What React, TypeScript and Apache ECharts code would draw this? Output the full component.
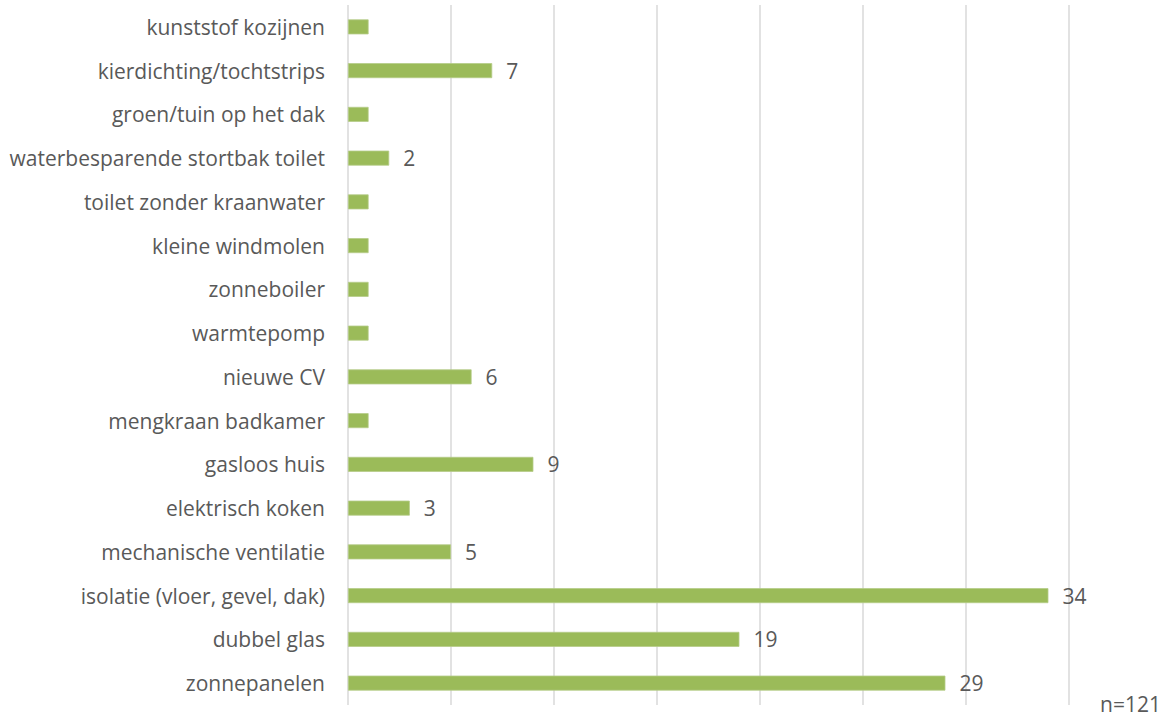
import React, { useEffect, useRef } from "react";
import * as echarts from "echarts";

const categories = [
  "zonnepanelen",
  "dubbel glas",
  "isolatie (vloer, gevel, dak)",
  "mechanische ventilatie",
  "elektrisch koken",
  "gasloos huis",
  "mengkraan badkamer",
  "nieuwe CV",
  "warmtepomp",
  "zonneboiler",
  "kleine windmolen",
  "toilet zonder kraanwater",
  "waterbesparende stortbak toilet",
  "groen/tuin op het dak",
  "kierdichting/tochtstrips",
  "kunststof kozijnen",
];
const values = [29, 19, 34, 5, 3, 9, 1, 6, 1, 1, 1, 1, 2, 1, 7, 1];
const note = "n=121";

const FONT = "'Open Sans', sans-serif";
const FS = 21;
const TXT = "#595959";

export default function App() {
  const ref = useRef<HTMLDivElement>(null);
  useEffect(() => {
    if (!ref.current) return;
    const chart = echarts.init(ref.current, undefined, { renderer: "svg" });
    chart.setOption({
      animation: false,
      grid: { left: 348, right: 101, top: 5, bottom: 14, containLabel: false },
      xAxis: {
        type: "value",
        min: 0,
        max: 35,
        interval: 5,
        axisLabel: { show: false },
        axisLine: { show: false },
        axisTick: { show: false },
        splitLine: { show: true, lineStyle: { color: "#d9d9d9", width: 1.5 } },
      },
      yAxis: {
        type: "category",
        data: categories,
        axisLine: { show: false },
        axisTick: { show: false },
        axisLabel: { color: TXT, fontSize: FS, fontFamily: FONT, margin: 23 },
      },
      series: [
        {
          type: "bar",
          data: values.map((v) => ({
            value: v,
            label: { show: v > 1 },
          })),
          barWidth: 15,
          itemStyle: { color: "#9bbb59", borderColor: "#b5cc88", borderWidth: 0.8 },
          label: {
            position: "right",
            distance: 14,
            color: TXT,
            fontSize: FS,
            fontFamily: FONT,
          },
        },
      ],
      graphic: [
        {
          type: "text",
          right: 9,
          top: 693,
          style: { text: note, fill: TXT, fontSize: FS, fontFamily: FONT },
        },
      ],
    });
    return () => chart.dispose();
  }, []);
  return <div ref={ref} style={{ width: 1170, height: 719, position: "absolute", left: 0, top: 0 }} />;
}
